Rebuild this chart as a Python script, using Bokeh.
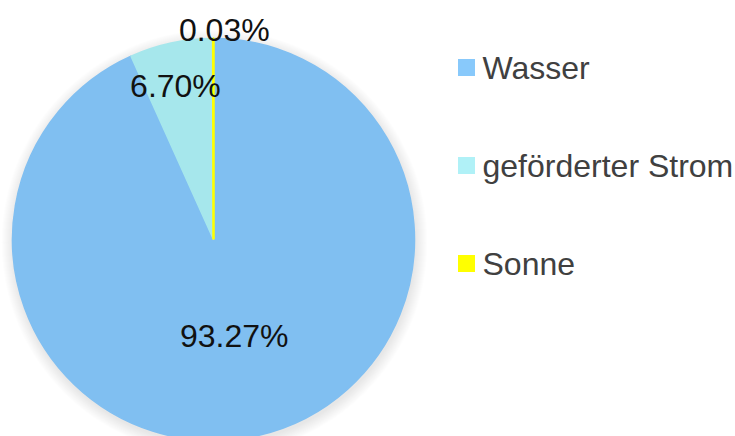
import math
from bokeh.plotting import figure
from bokeh.models import Range1d, ColumnDataSource
from bokeh.core.properties import value
from bokeh.embed import file_html
from bokeh.resources import INLINE

# ---- data ----
categories = ["Wasser", "geförderter Strom", "Sonne"]
shares = [93.27, 6.70, 0.03]
labels = ["93.27%", "6.70%", "0.03%"]
colors = ["#80BFF1", "#A6E7EC", "#FFFF00"]
legend_colors = ["#88C9FB", "#B0F1F7", "#FFFF00"]

# ---- layout / style ----
W, H = 735, 436
cx, cy, R = 213, 239, 201
label_r = [0.49, 0.78, 1.04]
label_dx = [0, -5, 11]
edge_w = [1.5, 1.5, 2.5]

p = figure(width=W, height=H, output_backend="svg", toolbar_location=None,
           x_range=Range1d(0, W), y_range=Range1d(H, 0),
           min_border=0, outline_line_color=None)
p.axis.visible = False
p.grid.visible = False
p.background_fill_color = "white"
p.border_fill_color = "white"

# soft shadow
for k in range(1, 13):
    p.circle(x=cx + 1, y=cy + 3, radius=R + k, fill_color="black",
             fill_alpha=0.007, line_color=None)

total = sum(shares)
starts, ends, lx, ly = [], [], [], []
cum = 0.0
for i, s in enumerate(shares):
    a0 = cum / total * 2 * math.pi
    cum += s
    a1 = cum / total * 2 * math.pi
    # clockwise from 12 o'clock (screen-space angles)
    starts.append(math.pi / 2 - a1)
    ends.append(math.pi / 2 - a0)
    mid = (a0 + a1) / 2
    lx.append(cx + math.sin(mid) * R * label_r[i] + label_dx[i])
    ly.append(cy - math.cos(mid) * R * label_r[i])

src = ColumnDataSource(dict(start=starts, end=ends, color=colors, lw=edge_w,
                            lx=lx, ly=ly, label=labels))
p.wedge(x=cx, y=cy, radius=R, start_angle="start", end_angle="end",
        fill_color="color", line_color="color", line_width="lw",
        source=src, direction="anticlock")

p.text(x="lx", y="ly", text="label", source=src, text_align="center",
       text_baseline="middle", text_font=value("Liberation Sans"),
       text_font_size="32px", text_color="#111111")

# legend
leg_y = [67 + 98 * i for i in range(len(categories))]
lsrc = ColumnDataSource(dict(y=leg_y, name=categories, color=legend_colors))
p.rect(x=466, y="y", width=17, height=17, width_units="screen",
       height_units="screen", fill_color="color", line_color=None, source=lsrc)
p.text(x=482, y="y", text="name", source=lsrc, text_align="left",
       text_baseline="middle", text_font=value("Liberation Sans"),
       text_font_size="32px", text_color="#404040")

open("out.html", "w").write(file_html(p, INLINE))
